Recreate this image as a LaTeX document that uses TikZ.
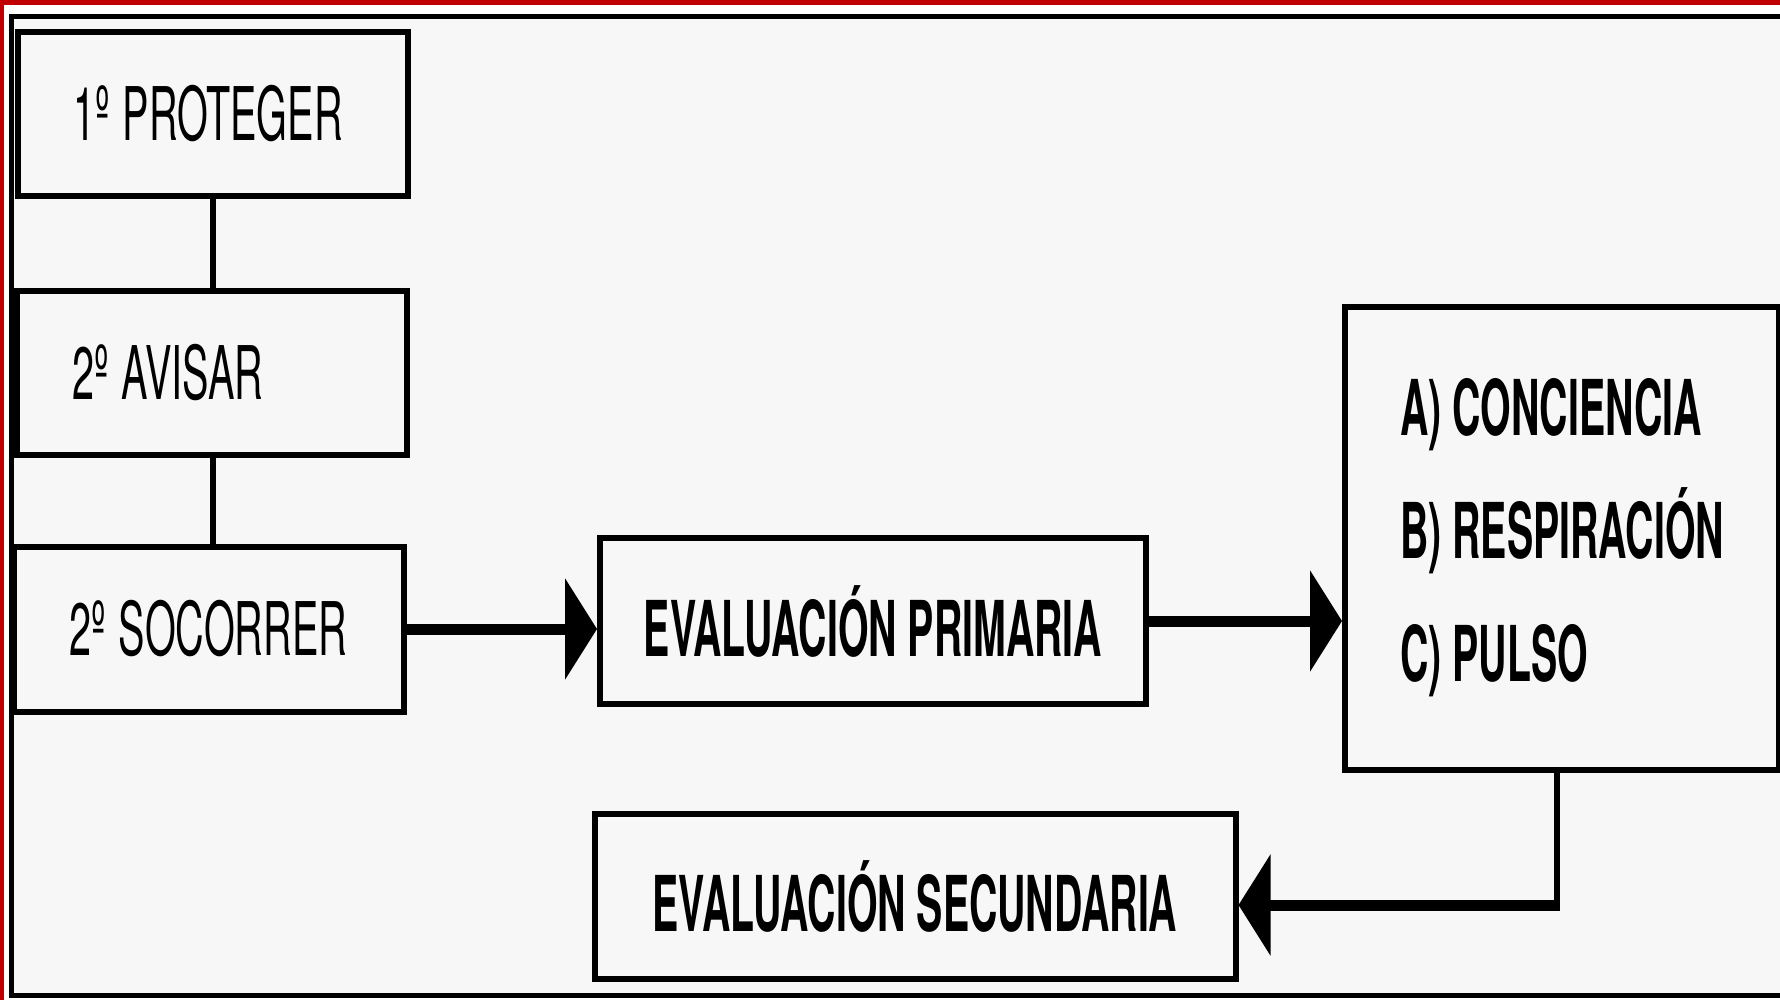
\documentclass[tikz,border=0pt]{standalone}
\usepackage{fontspec}
\usepackage{graphicx}
\usepackage{tikz}
\usepackage{xcolor}
\usetikzlibrary{arrows.meta}

\newfontfamily\stepfont{TeX Gyre Heros}
\newfontfamily\evalfont[FakeStretch=0.51]{TeX Gyre Heros}
\newcommand\steptext[1]{\scalebox{0.535}[1]{#1}}
\newcommand\evalstyle{\evalfont\bfseries\fontsize{38.5}{61.5}\selectfont}

\definecolor{framered}{RGB}{192,0,0}
\definecolor{paper}{RGB}{247,247,247}

\tikzset{
  leftbox/.style={draw, line width=3pt, fill=paper, text width=140pt, align=left,
    inner xsep=27.5pt, minimum height=82pt, font=\stepfont\fontsize{37}{44}\selectfont},
  evalbox/.style={draw, line width=3pt, fill=paper, align=center, font=\evalstyle},
  link/.style={line width=3pt},
  flow/.style={line width=5.5pt, -{Triangle[length=16pt,width=50pt]}},
}

\begin{document}
\begin{tikzpicture}[x=0.5pt,y=0.5pt,yscale=-1,xscale=1]
        \useasboundingbox (0,0) rectangle (1780,1000);

        %Shape: frame
        \fill[white] (0,0) rectangle (1780,1000);
        \fill[framered] (0,0) rectangle (1780,5);
        \fill[framered] (0,0) rectangle (4,1000);
        \filldraw[fill=paper, draw=black, line width=2.5pt] (11,17) rectangle (1800,995);

        % Left column
        \node[leftbox] (proteger) at (213,114) {\steptext{1º PROTEGER}};
        \node[leftbox] (avisar) at (212,373) {\steptext{2º AVISAR}};
        \node[leftbox, minimum height=82.5pt] (socorrer) at (209,629) {\steptext{2º SOCORRER}};

        % Evaluation boxes
        \node[evalbox, minimum width=273pt, minimum height=83pt] (primaria) at (873,621) {EVALUACIÓN PRIMARIA};
        \node[evalbox, minimum width=217pt, minimum height=231.5pt, align=left] (abc) at (1562,538)
          {A) CONCIENCIA\\B) RESPIRACIÓN\\C) PULSO};
        \node[evalbox, minimum width=320.5pt, minimum height=82.5pt] (secundaria) at (915,896) {EVALUACIÓN SECUNDARIA};
        \coordinate (turn) at (1557,905);

        %Straight Lines
        \draw[link] (proteger.south) -- (proteger.south |- avisar.north);
        \draw[link] (proteger.south |- avisar.south) -- (proteger.south |- socorrer.north);

        % Arrows
        \draw[flow] (socorrer.east) -- (socorrer.east -| primaria.west);
        \draw[flow] (primaria.east) -- (primaria.east -| abc.west);
        \draw[link, shorten >=-2.75pt] (turn |- abc.south) -- (turn);
        \draw[flow, shorten <=-1.5pt] (turn) -- (turn -| secundaria.east);

\end{tikzpicture}
\end{document}
